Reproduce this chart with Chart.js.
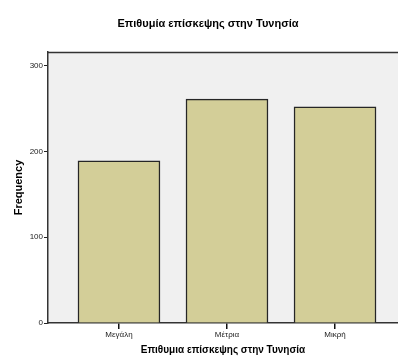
<!DOCTYPE html>
<html>
<head>
<meta charset="utf-8">
<script src="https://cdn.jsdelivr.net/npm/chart.js@4/dist/chart.umd.min.js"></script>
<style>
    html, body { margin: 0; padding: 0; background: #ffffff; }
    #chartBox { width: 398px; height: 356px; }
</style>
</head>
<body>
<div id="chartBox"><canvas id="barChartElem"></canvas></div>
<script>
// Data
const chartTitle = 'Επιθυμία επίσκεψης στην Τυνησία';
const xAxisTitle = 'Επιθυμια επίσκεψης στην Τυνησία';
const yAxisTitle = 'Frequency';
const categories = ['Μεγάλη', 'Μέτρια', 'Μικρή'];
const frequencies = [189, 261, 252];
const yTicks = [0, 100, 200, 300];

const fontFamily = '"Liberation Sans", Arial, sans-serif';

// Grey plot background + top frame line, title on top
const plotFrame = {
    id: 'plotFrame',
    beforeDraw: (chart) => {
        const { ctx, chartArea } = chart;
        ctx.save();
        ctx.fillStyle = '#f0f0f0';
        ctx.fillRect(chartArea.left, chartArea.top, chartArea.right - chartArea.left, chartArea.bottom - chartArea.top);
        ctx.strokeStyle = '#333333';
        ctx.lineWidth = 1.5;
        ctx.beginPath();
        ctx.moveTo(chartArea.left, chartArea.top + 0.5);
        ctx.lineTo(chartArea.right, chartArea.top + 0.5);
        ctx.stroke();
        ctx.fillStyle = '#000000';
        ctx.font = 'bold 11px ' + fontFamily;
        ctx.textAlign = 'center';
        ctx.textBaseline = 'middle';
        ctx.fillText(chartTitle, 208, 24);
        ctx.restore();
    }
};

const barChartElem = document.getElementById('barChartElem');
const barChart = new Chart(barChartElem, {
    type: 'bar',
    data: {
        datasets: [{
            label: yAxisTitle,
            data: categories.map((c, i) => ({ x: i, y: frequencies[i] })),
            backgroundColor: '#d3ce98',
            borderColor: '#262626',
            borderWidth: 1.5,
            barThickness: 82
        }]
    },
    options: {
        responsive: true,
        maintainAspectRatio: false,
        animation: false,
        layout: { padding: { top: 52, right: 0, left: 0, bottom: 0 } },
        plugins: {
            legend: { display: false },
            tooltip: { enabled: false }
        },
        scales: {
            x: {
                type: 'linear',
                offset: false,
                min: -0.657,
                max: 2.583,
                afterBuildTicks: (scale) => {
                    scale.ticks = categories.map((c, i) => ({ value: i }));
                },
                afterFit: (scale) => { scale.height = 33; },
                ticks: {
                    autoSkip: false,
                    maxRotation: 0,
                    padding: 1,
                    color: '#222222',
                    font: { family: fontFamily, size: 8 },
                    callback: (value) => categories[value]
                },
                grid: { offset: false, drawOnChartArea: false, drawTicks: true, tickLength: 6, color: '#111111', lineWidth: 1.5 },
                border: { display: true, color: '#333333', width: 1.5 },
                title: {
                    display: true,
                    text: xAxisTitle,
                    color: '#000000',
                    font: { family: fontFamily, size: 10, weight: 'bold' },
                    padding: { top: 3, bottom: 0 }
                }
            },
            y: {
                min: 0,
                max: 316,
                afterBuildTicks: (scale) => {
                    scale.ticks = yTicks.map((v) => ({ value: v }));
                },
                afterFit: (scale) => { scale.width = 48; },
                ticks: {
                    padding: 1,
                    color: '#222222',
                    font: { family: fontFamily, size: 8 }
                },
                grid: { drawOnChartArea: false, drawTicks: true, tickLength: 4, color: '#222222', lineWidth: 1 },
                border: { display: true, color: '#333333', width: 1.5 },
                title: {
                    display: true,
                    text: yAxisTitle,
                    color: '#000000',
                    font: { family: fontFamily, size: 11, weight: 'bold' },
                    padding: { top: 12, bottom: 0 }
                }
            }
        }
    },
    plugins: [plotFrame]
});
</script>
</body>
</html>
